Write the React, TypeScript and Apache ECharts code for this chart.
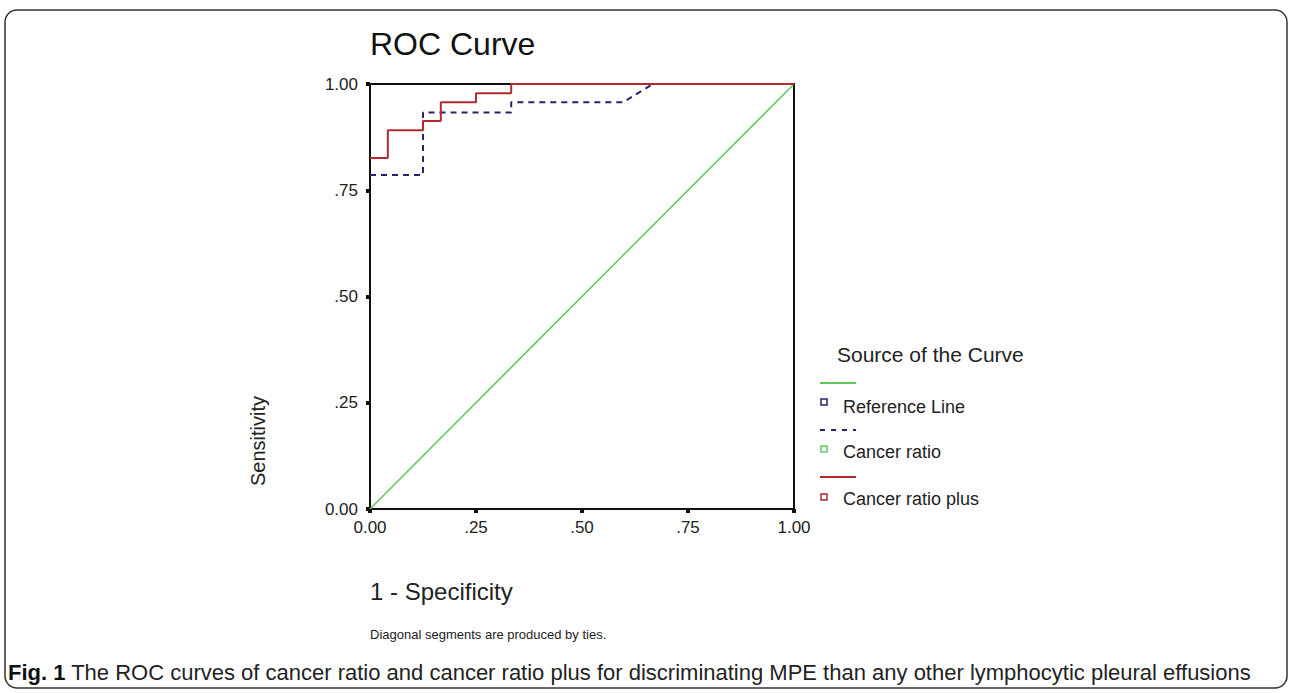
import React, { useEffect, useRef } from "react";
import * as echarts from "echarts";

// Axis ticks
const tickValues = [0, 0.25, 0.5, 0.75, 1];
const tickLabels = ["0.00", ".25", ".50", ".75", "1.00"];

// Reference line (diagonal)
const refLineX = [0, 1];
const refLineY = [0, 1];

// Cancer ratio (dashed navy) - polyline vertices
const crX = [0, 0.125, 0.125, 0.333, 0.333, 0.597, 0.667, 1];
const crY = [0.786, 0.786, 0.933, 0.933, 0.957, 0.957, 1, 1];

// Cancer ratio plus (red) - ROC points (step)
const crpX = [0, 0.042, 0.125, 0.167, 0.25, 0.333, 1];
const crpY = [0.826, 0.891, 0.913, 0.957, 0.978, 1, 1];

const legendNames = ["Reference Line", "Cancer ratio", "Cancer ratio plus"];
const colors = { ref: "#5cc85c", cr: "#23236e", crp: "#b2292e" };

const zip = (a: number[], b: number[]) => a.map((v, i) => [v, b[i]]);

const fmt = (v: number) => {
  const i = tickValues.findIndex((t) => Math.abs(t - v) < 1e-6);
  return i >= 0 ? tickLabels[i] : "";
};

const FONT = "Liberation Sans, Arial, sans-serif";

export default function App() {
  const ref = useRef<HTMLDivElement>(null);
  useEffect(() => {
    if (!ref.current) return;
    const chart = echarts.init(ref.current, undefined, { renderer: "svg" });
    const axisCommon = {
      type: "value" as const,
      min: 0,
      max: 1,
      interval: 0.25,
      splitLine: { show: false },
      axisLine: { show: true, lineStyle: { color: "#111", width: 2 } },
      axisTick: { show: true, length: 4, lineStyle: { color: "#111", width: 4 } },
      axisLabel: { formatter: fmt, color: "#222", fontSize: 17, fontFamily: FONT },
    };
    const lx = 820;
    const legendGraphics: any[] = [
      { type: "text", left: 837, top: 344, style: { text: "Source of the Curve", fontSize: 21, fontFamily: FONT, fill: "#222" } },
      { type: "line", shape: { x1: lx, y1: 383, x2: 856, y2: 383 }, style: { stroke: colors.ref, lineWidth: 2 } },
      { type: "rect", shape: { x: 821, y: 399, width: 6, height: 6 }, style: { fill: "none", stroke: colors.cr, lineWidth: 1.5 } },
      { type: "text", x: 843, y: 407, style: { text: legendNames[0], fontSize: 18, fontFamily: FONT, fill: "#222", verticalAlign: "middle" } },
      { type: "line", shape: { x1: lx, y1: 430, x2: 856, y2: 430 }, style: { stroke: colors.cr, lineWidth: 2, lineDash: [5, 6] } },
      { type: "rect", shape: { x: 821, y: 446, width: 6, height: 6 }, style: { fill: "none", stroke: colors.ref, lineWidth: 1.5 } },
      { type: "text", x: 843, y: 452, style: { text: legendNames[1], fontSize: 18, fontFamily: FONT, fill: "#222", verticalAlign: "middle" } },
      { type: "line", shape: { x1: lx, y1: 477, x2: 856, y2: 477 }, style: { stroke: colors.crp, lineWidth: 2 } },
      { type: "rect", shape: { x: 821, y: 494, width: 6, height: 6 }, style: { fill: "none", stroke: colors.crp, lineWidth: 1.5 } },
      { type: "text", x: 843, y: 499, style: { text: legendNames[2], fontSize: 18, fontFamily: FONT, fill: "#222", verticalAlign: "middle" } },
    ];
    chart.setOption({
      animation: false,
      backgroundColor: "#fff",
      grid: { left: 370, top: 84, width: 424, height: 425, show: true, borderColor: "#111", borderWidth: 2, backgroundColor: "transparent" },
      xAxis: { ...axisCommon, axisLabel: { ...axisCommon.axisLabel, margin: 10 } },
      yAxis: { ...axisCommon, axisLabel: { ...axisCommon.axisLabel, margin: 12 } },
      series: [
        {
          type: "line",
          data: zip(refLineX, refLineY),
          showSymbol: false,
          lineStyle: { color: colors.ref, width: 1.5 },
          z: 2,
        },
        {
          type: "line",
          data: zip(crX, crY),
          showSymbol: false,
          lineStyle: { color: colors.cr, width: 2, type: [6, 5] },
          z: 3,
        },
        {
          type: "line",
          step: "end",
          data: zip(crpX, crpY),
          showSymbol: false,
          lineStyle: { color: colors.crp, width: 2 },
          z: 4,
        },
      ],
      graphic: [
        { type: "rect", shape: { x: 5, y: 10, width: 1282, height: 678, r: 12 }, style: { fill: "none", stroke: "#333", lineWidth: 1.5 }, z: -1 },
        { type: "text", x: 370, y: 44, style: { text: "ROC Curve", fontSize: 32, fontFamily: FONT, fill: "#111", verticalAlign: "middle" } },
        { type: "text", x: 258, y: 441, rotation: Math.PI / 2, style: { text: "Sensitivity", fontSize: 20, fontFamily: FONT, fill: "#222", align: "center", verticalAlign: "middle" } },
        { type: "text", x: 370, y: 591, style: { text: "1 - Specificity", fontSize: 24, fontFamily: FONT, fill: "#222", verticalAlign: "middle" } },
        { type: "text", x: 370, y: 634, style: { text: "Diagonal segments are produced by ties.", fontSize: 13, fontFamily: FONT, fill: "#222", verticalAlign: "middle" } },
        {
          type: "text",
          x: 8,
          y: 672,
          style: {
            text: "{b|Fig. 1} The ROC curves of cancer ratio and cancer ratio plus for discriminating MPE than any other lymphocytic pleural effusions",
            fontSize: 22,
            fontFamily: FONT,
            fill: "#222",
            verticalAlign: "middle",
            rich: { b: { fontWeight: "bold", fontSize: 22, fontFamily: FONT, fill: "#111" } },
          },
        },
        ...legendGraphics,
      ],
    });
    return () => chart.dispose();
  }, []);
  return <div ref={ref} style={{ position: "fixed", left: 0, top: 0, width: 1292, height: 693 }} />;
}
